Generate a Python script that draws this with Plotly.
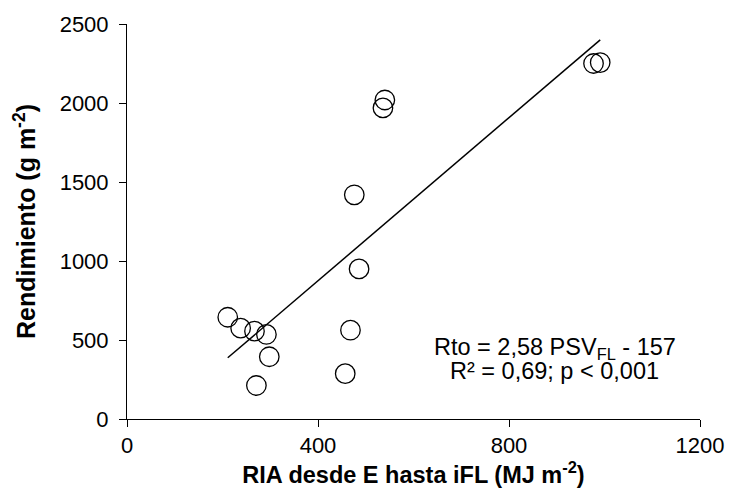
import plotly.graph_objects as go

ria = [211, 238, 267, 292, 298, 271, 468, 457, 486, 476, 536, 540, 977, 991]
rendimiento = [644, 575, 556, 535, 394, 212, 562, 287, 950, 1419, 1969, 2019, 2250, 2256]
slope = 2.58
intercept = -157
x_ticks = [0, 400, 800, 1200]
y_ticks = [0, 500, 1000, 1500, 2000, 2500]

xmin, xmax = min(ria), max(ria)
line_x = [xmin, xmax]
line_y = [slope * v + intercept for v in line_x]

fig = go.Figure()
fig.add_trace(go.Scatter(x=line_x, y=line_y, mode="lines",
                         line=dict(color="black", width=1.5), showlegend=False))
fig.add_trace(go.Scatter(x=ria, y=rendimiento, mode="markers",
                         marker=dict(symbol="circle-open", size=19.5, color="black",
                                     line=dict(width=1.3, color="black")),
                         showlegend=False, cliponaxis=False))

font = dict(family="Liberation Sans, Arial, sans-serif", color="black")
fig.update_layout(
    width=736, height=495,
    margin=dict(l=127, r=29, t=20, b=75),
    plot_bgcolor="white", paper_bgcolor="white",
    font=dict(**font, size=22),
    xaxis=dict(range=[0, 1200], tickvals=x_ticks, showgrid=False, zeroline=False,
               showline=True, linecolor="black", linewidth=1,
               ticks="outside", ticklen=7, tickcolor="black",
               tickfont=dict(size=22),
               title=dict(text="<b>RIA desde E hasta iFL (MJ m<sup>-2</sup>)</b>",
                          font=dict(size=23.5), standoff=8)),
    yaxis=dict(range=[0, 2500], tickvals=y_ticks, showgrid=False, zeroline=False,
               showline=True, linecolor="black", linewidth=1,
               ticks="outside", ticklen=7, tickcolor="black",
               tickfont=dict(size=22), ticklabelstandoff=6,
               title=dict(text="<b>Rendimiento (g m<sup>-2</sup>)</b>",
                          font=dict(size=25), standoff=16)),
    annotations=[
        dict(x=0.7466, y=0.1775, xref="paper", yref="paper", showarrow=False,
             xanchor="center", yanchor="middle",
             text="Rto = 2,58 PSV<sub>FL</sub> - 157", font=dict(size=23.5)),
        dict(x=0.7466, y=0.1225, xref="paper", yref="paper", showarrow=False,
             xanchor="center", yanchor="middle",
             text="R² = 0,69; p < 0,001", font=dict(size=23.5)),
    ],
)

fig.write_html("out.html")
